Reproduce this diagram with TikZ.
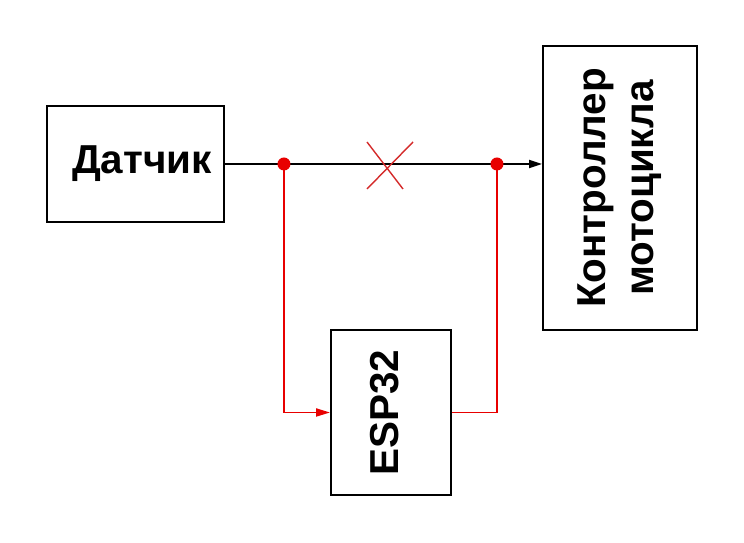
\documentclass[tikz,border=0pt]{standalone}
\usepackage{fontspec}
\usepackage{graphicx}
\setmainfont{Liberation Sans}
\usetikzlibrary{arrows.meta, positioning, calc}
\definecolor{cred}{HTML}{E80000}
\definecolor{ccross}{HTML}{D42A2A}
\tikzset{
  every picture/.style={line width=1.1pt},
  box/.style={draw=black, inner sep=0pt, align=center, font=\bfseries\fontsize{23}{27}\selectfont},
  arrow/.style={-{Triangle[length=2.6mm, width=1.6mm]}, draw=black},
  rarrow/.style={-{Triangle[length=2.8mm, width=1.6mm]}, draw=cred},
  rline/.style={draw=cred},
  dot/.style={fill=cred},
}

\begin{document}
\begin{tikzpicture}
  \useasboundingbox (0,0) rectangle (14.88,10.86);
  \node[box, minimum width=3.54cm, minimum height=2.32cm] (dat) at (2.71,7.58) {\hspace*{0.26cm}Датчик};
  \node[box, minimum width=3.08cm, minimum height=5.68cm] (ctrl) at (12.40,7.10)
    {\rotatebox{90}{\begin{tabular}{@{}c@{}}Контроллер\\мотоцикла\end{tabular}}};
  \node[box, minimum width=2.40cm, minimum height=3.30cm] (esp) at (7.82,2.61)
    {\rotatebox{90}{ESP32}\hspace*{0.24cm}};
  % signal line, cut by the ESP32
  \draw[arrow] (dat.east) -- (dat.east -| ctrl.west);
  \coordinate (j1) at ($(dat.east)+(1.18,0)$);
  \coordinate (j2) at ($(dat.east)+(5.44,0)$);
  \coordinate (cut) at (7.74,7.50);
  \draw[ccross, line width=0.8pt] ($(cut)+(-0.40,0.52)$) -- ($(cut)+(0.32,-0.42)$)
    ($(cut)+(0.52,0.52)$) -- ($(cut)+(-0.40,-0.42)$);
  % bypass through the ESP32
  \draw[rarrow] (j1) |- (esp.west);
  \draw[rline] (esp.east) -| (j2);
  \foreach \j in {j1, j2} \fill[dot] (\j) circle (0.13);
\end{tikzpicture}
\end{document}
